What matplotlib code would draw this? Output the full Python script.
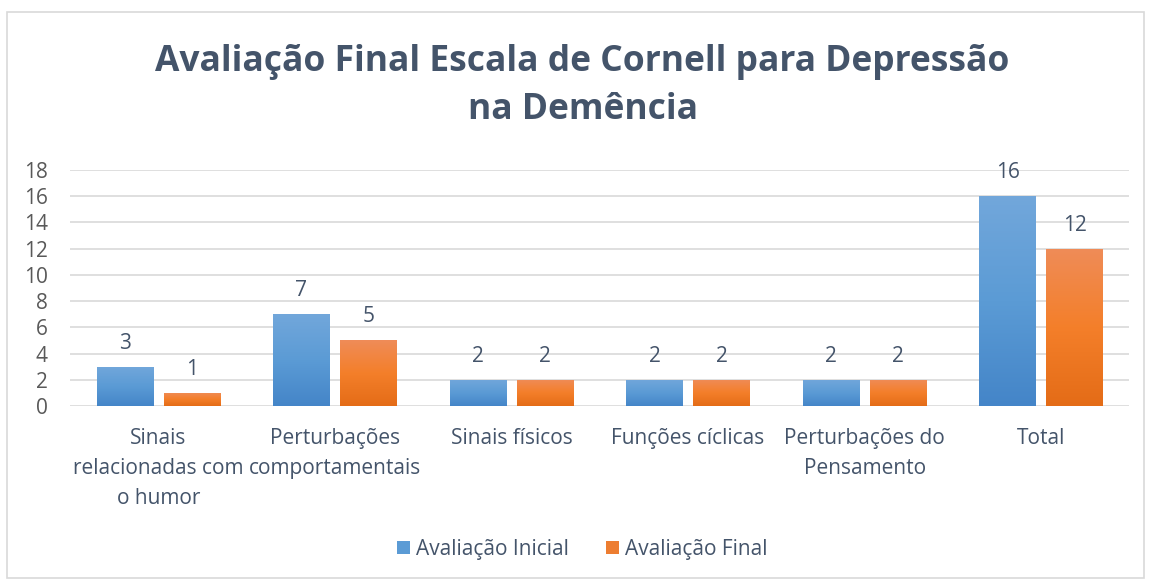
import numpy as np
import matplotlib.pyplot as plt
from matplotlib.colors import LinearSegmentedColormap
from matplotlib.patches import Rectangle, Patch

categories = ["Sinais\nrelacionadas com\no humor", "Perturbações\ncomportamentais",
              "Sinais físicos", "Funções cíclicas", "Perturbações do\nPensamento", "Total"]
inicial = [3, 7, 2, 2, 2, 16]
final = [1, 5, 2, 2, 2, 12]
series_names = ["Avaliação Inicial", "Avaliação Final"]

plt.rcParams['font.family'] = ['Open Sans', 'DejaVu Sans']
text_col = "#44546A"
tick_col = "#595959"

fig = plt.figure(figsize=(11.49, 5.8), dpi=100)
fig.patches.append(Rectangle((0.006, 0.003), 0.99, 0.976, transform=fig.transFigure,
                             fill=False, edgecolor="#D9D9D9", linewidth=1.2))
ax = fig.add_axes([0.061, 0.30, 0.922, 0.407])

x = np.arange(len(categories))
w = 0.32
off = 0.19

# top -> bottom gradient colours
grads = {
    "blue": LinearSegmentedColormap.from_list("b", ["#4485C8", "#5B9BD5", "#72A7DB"]),
    "orange": LinearSegmentedColormap.from_list("o", ["#E46C17", "#F47F2A", "#EF8C58"]),
}

def grad_bars(xs, vals, cmap, base):
    bars = ax.bar(xs, vals, w, color=base, zorder=2)
    g = np.linspace(0, 1, 256).reshape(-1, 1)
    for b in bars:
        x0, y0 = b.get_x(), b.get_y()
        im = ax.imshow(g, cmap=cmap, aspect="auto", origin="lower",
                       extent=[x0, x0 + b.get_width(), y0, y0 + b.get_height()], zorder=3)
        im.set_clip_path(b)
    for xi, v in zip(xs, vals):
        ax.text(xi, v + 1.0, str(v), ha="center", va="bottom", fontsize=15, color=text_col)
    return bars

grad_bars(x - off, inicial, grads["blue"], "#5B9BD5")
grad_bars(x + off, final, grads["orange"], "#ED7D31")

ax.set_xlim(-0.5, len(categories) - 0.5)
ax.set_ylim(0, 18)
ax.set_yticks(range(0, 19, 2))
ax.yaxis.grid(True, color="#D9D9D9", linewidth=1.2, zorder=0)
ax.set_axisbelow(True)
for s in ax.spines.values():
    s.set_visible(False)
ax.tick_params(axis="both", length=0, labelsize=15, colors=tick_col)
ax.tick_params(axis="y", pad=16)
ax.set_xticks(x)
ax.set_xticklabels(categories, linespacing=1.55)
ax.tick_params(axis="x", pad=16)
for lab in ax.get_xticklabels():
    lab.set_color(text_col)

fig.text(0.507, 0.852, "Avaliação Final Escala de Cornell para Depressão\nna Demência",
         ha="center", va="center", fontsize=25.5, fontweight="bold", color=text_col,
         linespacing=1.45)

handles = [Patch(facecolor="#5B9BD5"), Patch(facecolor="#ED7D31")]
fig.legend(handles, series_names, loc="center", bbox_to_anchor=(0.507, 0.053), ncol=2,
           frameon=False, fontsize=15, labelcolor=text_col, handlelength=0.6,
           handleheight=0.6, handletextpad=0.3, columnspacing=1.8)

fig.savefig("out.png", dpi=100)
